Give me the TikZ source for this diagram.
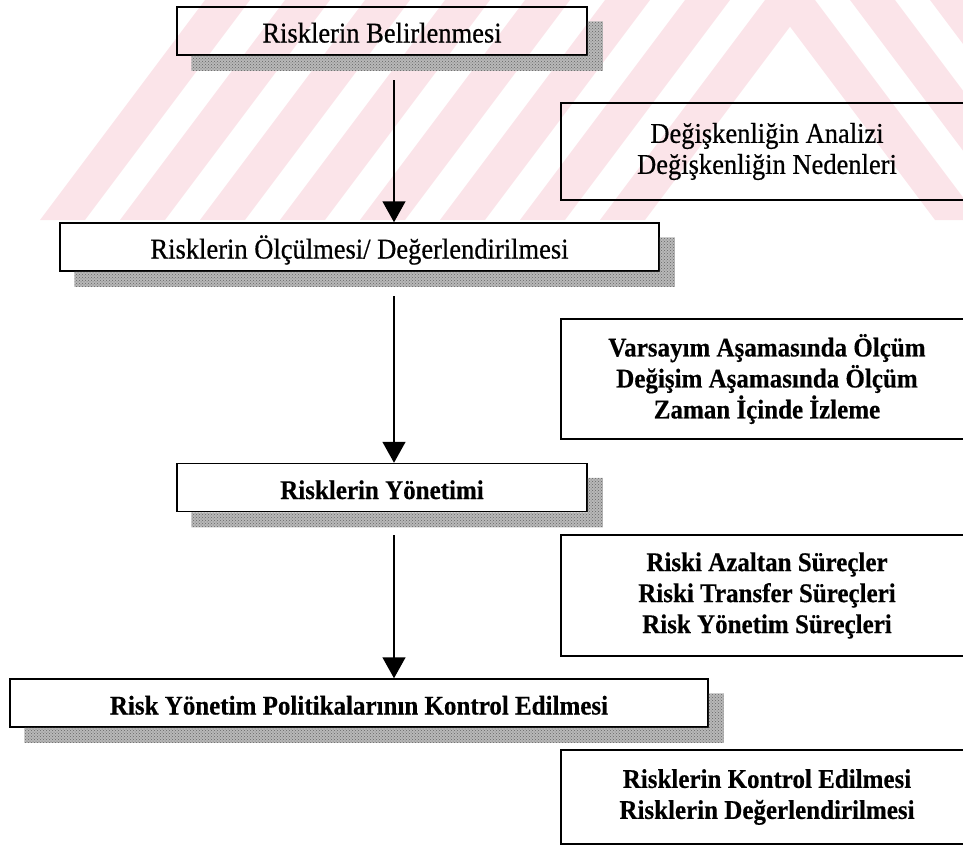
\documentclass[tikz,border=0pt]{standalone}
\usepackage{fontspec}
\setmainfont{Liberation Serif}
\newfontfamily\heavyserif[FakeBold=0.6, BoldFeatures={FakeBold=0.4}]{Liberation Serif}
\usetikzlibrary{arrows.meta,positioning,calc,patterns}

\definecolor{wmpink}{RGB}{251,228,233}
\newcommand{\regtext}{\heavyserif\fontsize{26.5}{31}\selectfont}
\newcommand{\boldtext}{\heavyserif\fontsize{25}{31}\selectfont\bfseries}
\newcommand{\tallline}[1]{\scalebox{1}[1.08]{#1}}

\tikzset{
	mainbox/.style = {draw=black, line width=1.5pt, minimum height=48pt, inner sep=0pt,
		text height=23pt, text depth=0pt, font=\regtext},
	sidebox/.style = {draw=black, line width=1.2pt, minimum width=412pt, inner sep=0pt,
		align=center, font=\boldtext},
	shadefill/.style = {fill=black!28, postaction={pattern=crosshatch dots, pattern color=black!60}},
	flow/.style = {line width=1.5pt, -{Triangle[length=21pt,width=23pt]}}
}

% grey drop shade along the bottom and right edge of a box
\newcommand{\boxshade}[1]{%
	\fill[shadefill] ($(#1.south west)+(15,0)$) -- (#1.south east) -- ($(#1.north east)+(0,15)$)
		-- ++(15,0) -- ($(#1.south east)+(15,15)$) -- ($(#1.south west)+(15,15)$) -- cycle;}

\begin{document}
\begin{tikzpicture}[x=1pt, y=-1pt]
	\useasboundingbox (0,0) rectangle (963,846);

	% striped background in the upper band
	\begin{scope}
		\clip (0,0) rectangle (963,220);
		\foreach \x in {40,120,...,600}
			\fill[wmpink] (\x,220) -- ++(45,0) -- ++(165,-220) -- ++(-45,0) -- cycle;
		\foreach \x in {770,850,930}
			\fill[wmpink] (\x,0) -- ++(45,0) -- ++(165,220) -- ++(-45,0) -- cycle;
	\end{scope}

	\node [mainbox, minimum width=410pt] (ident) at (382,31) {\tallline{Risklerin Belirlenmesi}};
	\node [mainbox, minimum width=599pt] (meas) at (359.5,247) {\tallline{Risklerin Ölçülmesi/ Değerlendirilmesi}};
	\node [mainbox, minimum width=410pt, font=\boldtext] (manage) at (382,487.5) {\tallline{Risklerin Yönetimi}};
	\node [mainbox, minimum width=698pt, font=\boldtext] (control) at (359,703) {\tallline{Risk Yönetim Politikalarının Kontrol Edilmesi}};

	\foreach \b in {ident,meas,manage,control}{
		\boxshade{\b}
	}

	\node [sidebox, minimum height=97pt, font=\regtext] (vary) at (767,151.5)
		{\tallline{Değişkenliğin Analizi}\\\tallline{Değişkenliğin Nedenleri}};
	\node [sidebox, minimum height=120pt] (gauge) at (767,379)
		{\tallline{Varsayım Aşamasında Ölçüm}\\\tallline{Değişim Aşamasında Ölçüm}\\\tallline{Zaman İçinde İzleme}};
	\node [sidebox, minimum height=121pt] (proc) at (767,595.5)
		{\tallline{Riski Azaltan Süreçler}\\\tallline{Riski Transfer Süreçleri}\\\tallline{Risk Yönetim Süreçleri}};
	\node [sidebox, minimum height=94pt] (review) at (767,797)
		{\tallline{Risklerin Kontrol Edilmesi}\\\tallline{Risklerin Değerlendirilmesi}};

	\coordinate (s1) at (394,80);
	\coordinate (s2) at (394,296);
	\coordinate (s3) at (394,535);
	\draw [flow] (s1) -- (s1 |- meas.north);
	\draw [flow] (s2) -- (s2 |- manage.north);
	\draw [flow] (s3) -- (s3 |- control.north);
\end{tikzpicture}
\end{document}
